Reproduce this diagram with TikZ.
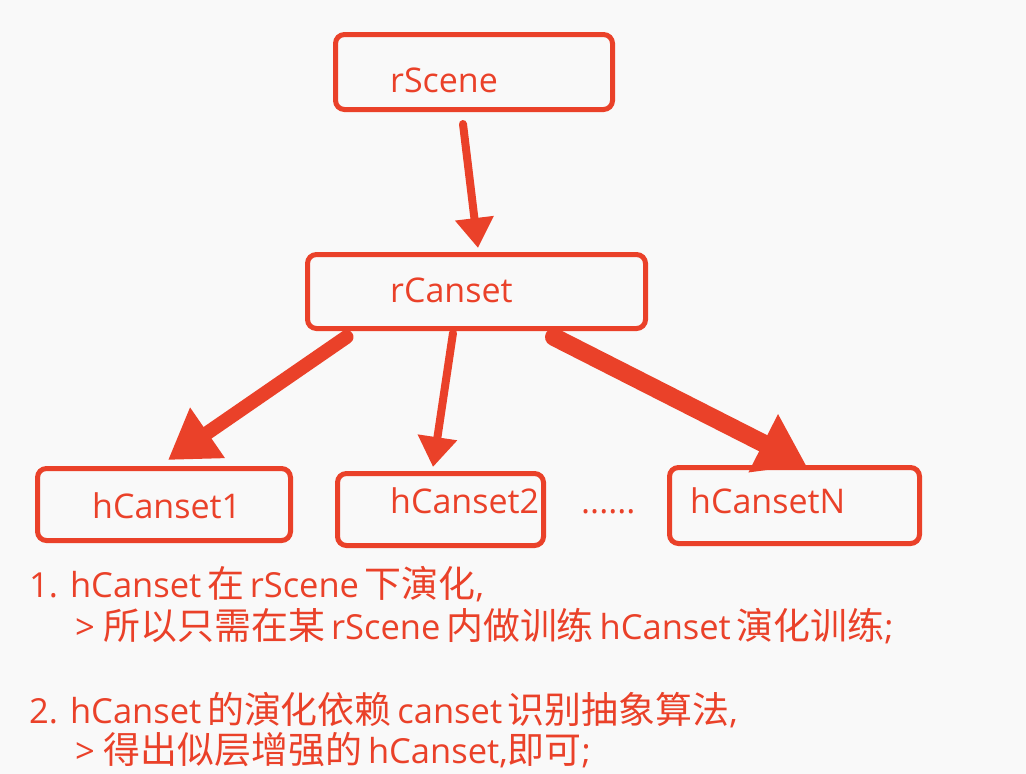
\documentclass[tikz,border=0pt]{standalone}
\usepackage{fontspec}
\setmainfont{Open Sans}
\newfontfamily\cjk{Noto Sans CJK SC}[Scale=1.07]
\newcommand{\zh}[1]{{\cjk #1}}
\usetikzlibrary{arrows.meta}
\definecolor{inkred}{RGB}{234,65,41}
\definecolor{paper}{RGB}{249,249,249}

\begin{document}
\begin{tikzpicture}[x=1pt,y=-1pt,
  box/.style={draw=inkred,line width=5pt,rounded corners=9pt,inner sep=0pt},
  lbl/.style={text=inkred,anchor=base west,inner sep=0pt,font=\fontsize{34}{42}\selectfont},
  note/.style={text=inkred,anchor=base west,inner sep=0pt,font=\fontsize{34.5}{42}\selectfont},
  link/.style={draw=inkred,line cap=round,line join=miter}]
\useasboundingbox[fill=paper] (0,0) rectangle (1026,774);
% boxes
\node[box,minimum width=277pt,minimum height=75pt] (rScene) at (474,72) {};
\node[box,minimum width=338pt,minimum height=74pt] (rCanset) at (476.5,291.5) {};
\node[box,minimum width=253pt,minimum height=72pt] (h1) at (164,504.5) {};
\node[box,minimum width=206pt,minimum height=72pt] (h2) at (440.5,509.5) {};
\node[box,minimum width=250pt,minimum height=76pt] (hN) at (794.5,505.5) {};
% labels
\node[lbl] (rSceneT) at (390,92) {rScene};
\node[lbl] (rCansetT) at (390,302) {rCanset};
\node[lbl] (h1T) at (92,518) {hCanset1};
\node[lbl] (h2T) at (390,513) {hCanset2};
\node[lbl] (hNT) at (690,513) {hCansetN};
\node[lbl] (dots) at (581,513) {......};
% arrows
\draw[link,line width=8pt,-{Triangle[width=37pt,length=30pt]}]
  ([xshift=-11pt,yshift=-12pt]rScene.south) -- ([xshift=1.5pt,yshift=4pt]rCanset.north);
\draw[link,line width=14pt,-{Triangle[width=58pt,length=48pt]}]
  ([xshift=-130pt,yshift=-6pt]rCanset.south) -- ([xshift=4pt,yshift=6pt]h1.north);
\draw[link,line width=8pt,-{Triangle[width=38pt,length=30pt]}]
  ([xshift=-23.5pt,yshift=-2pt]rCanset.south) -- ([xshift=-7.5pt,yshift=4pt]h2.north);
\draw[link,line width=18pt,-{Triangle[width=62pt,length=48pt]}]
  ([xshift=77.5pt,yshift=-6pt]rCanset.south) -- ([xshift=11.5pt]hN.north);
% notes
\node[note] (n1) at (29,597) {1. hCanset\,\zh{在}\,rScene\,\zh{下演化},};
\node[note] (n2) at (75,639) {> \zh{所以只需在某}\,rScene\,\zh{内做训练}\,hCanset\,\zh{演化训练};};
\node[note] (n3) at (29,723) {2. hCanset\,\zh{的演化依赖}\,canset\,\zh{识别抽象算法},};
\node[note] (n4) at (75,763) {> \zh{得出似层增强的}\,hCanset,\zh{即可};};
\end{tikzpicture}
\end{document}
